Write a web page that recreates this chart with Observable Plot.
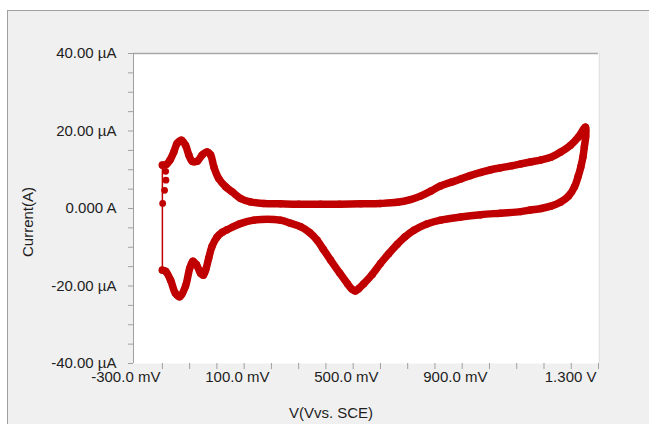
<!DOCTYPE html>
<html><head><meta charset="utf-8">
<script src="https://cdn.jsdelivr.net/npm/d3@7"></script>
<script src="https://cdn.jsdelivr.net/npm/@observablehq/plot@0.6"></script>
<style>
html,body{margin:0;padding:0;background:#fff;}
#wrap{position:relative;width:649px;height:424px;overflow:hidden;font-family:"Liberation Sans",Arial,sans-serif;color:#1e1e1e;}
#panel{position:absolute;left:7px;top:10px;width:700px;height:500px;background:#f0f0f0;border-left:1px solid #a0a0a0;border-top:1px solid #a0a0a0;}
#chart{position:absolute;left:0;top:0;}
#chart svg{background:transparent;}
.ttl{position:absolute;font-size:15px;line-height:18px;white-space:nowrap;}
#xt{left:181px;width:300px;text-align:center;top:404px;}
#yt{left:27.5px;top:222px;transform:translate(-50%,-50%) rotate(-90deg);}
</style></head><body>
<div id="wrap"><div id="panel"></div><div id="chart"></div>
<div class="ttl" id="xt">V(Vvs. SCE)</div>
<div class="ttl" id="yt">Current(A)</div>
</div>
<script>
// Forward (anodic) sweep: potential in mV, current in µA
const fwdV = [-300,-285,-272,-258,-246,-230,-215,-203,-191,-172,-154,-136,-123,-111,-93,-68,-44,-13,23,72,133,200,280,350,428,500,562,610,647,685,720,760,794,830,868,905,941,980,1015,1050,1088,1125,1160,1197,1226,1252];
const fwdI = [11.2,11.4,12.5,14.6,16.8,17.6,16.3,13.8,12.2,12.2,13.8,14.6,13.8,10.7,7.7,5.6,4.3,2.6,1.7,1.3,1.2,1.1,1.1,1.1,1.2,1.3,1.6,2.3,3.2,4.5,5.8,6.8,7.6,8.5,9.3,10.0,10.5,11.0,11.5,12.0,12.5,13.2,14.5,16.3,18.4,21.0];
// Reverse (cathodic) sweep
const revV = [1252,1253,1248,1243,1235,1225,1212,1190,1160,1125,1090,1050,1015,941,868,794,720,670,623,590,562,530,500,470,439,420,408,395,379,350,317,290,268,240,207,170,133,35,-14,-63,-80,-100,-118,-130,-141,-150,-160,-175,-188,-200,-215,-237,-252,-270,-288,-300];
const revI = [21.0,18.5,15.9,13.3,10.7,8.2,5.6,3.2,1.6,0.6,0.0,-0.4,-0.8,-1.2,-1.6,-2.2,-3.0,-4.0,-5.6,-7.3,-9.2,-11.7,-14.2,-17.0,-19.4,-20.7,-21.3,-20.8,-19.4,-16.6,-13.3,-10.5,-8.2,-6.2,-4.7,-3.8,-3.0,-3.0,-3.9,-5.5,-6.1,-7.4,-9.8,-12.8,-15.8,-17.2,-16.7,-14.5,-13.6,-15.5,-20.0,-22.8,-21.9,-18.5,-16.2,-15.9];
// Return step at the start potential and first scattered samples
const stepV = [-300,-300];
const stepI = [-15.9,11.2];
const startV = [-299,-292,-287,-288];
const startI = [1.3,4.7,7.3,9.6];

// Axis ticks and labels
const xMinorTicks = d3.range(-300,1301,100);
const xMajorTicks = [-300,100,500,900,1300];
const xTickLabels = ["-300.0 mV","100.0 mV","500.0 mV","900.0 mV","1.300 V"];
const yMinorTicks = d3.range(-40,41,5);
const yMajorTicks = [40,20,0,-20,-40];
const yTickLabels = ["40.00 µA","20.00 µA","0.000 A","-20.00 µA","-40.00 µA"];

const red = "#c00000";
const toPts = (V,I) => V.map((v,i)=>({v, i: I[i]}));
const fwd = toPts(fwdV,fwdI);
const rev = toPts(revV,revI);
const sweep = fwd.concat(rev.slice(1));
const step = toPts(stepV,stepI);
const start = toPts(startV,startI);
const xLab = new Map(xMajorTicks.map((d,k)=>[d,xTickLabels[k]]));
const yLab = new Map(yMajorTicks.map((d,k)=>[d,yTickLabels[k]]));

const chart = Plot.plot({
  width:649, height:424,
  marginLeft:133, marginRight:51, marginTop:53, marginBottom:61,
  style:{background:"transparent", fontFamily:"'Liberation Sans', Arial, sans-serif", fontSize:"15px", color:"#1e1e1e"},
  x:{domain:[-406,1300], label:null},
  y:{domain:[-40,40], label:null},
  marks:[
    Plot.frame({fill:"white", stroke:"none"}),
    Plot.ruleX([1300], {stroke:"#e2e2e2", dx:1}),
    Plot.ruleY([40], {stroke:"#a8a8a8", strokeWidth:1.6}),
    Plot.ruleX([-406], {stroke:"#a0a0a0"}),
    Plot.axisY(yMinorTicks, {tickSize:5, tickFormat:()=>"", stroke:"#a0a0a0", label:null}),
    Plot.axisY(yMajorTicks, {tickSize:0, tickPadding:17, tickFormat:d=>yLab.get(d), fill:"#1e1e1e", label:null}),
    Plot.axisX(xMinorTicks, {tickSize:6, tickFormat:()=>"", stroke:"#a0a0a0", label:null}),
    Plot.text(xMajorTicks, {x:d=>d, frameAnchor:"bottom", text:d=>xLab.get(d), textAnchor:"end", dy:18, dx:-2, fill:"#1e1e1e"}),
    Plot.line(step, {x:"v", y:"i", stroke:red, strokeWidth:1.5}),
    Plot.dot(start, {x:"v", y:"i", r:3.4, fill:red}),
    Plot.line(sweep, {x:"v", y:"i", stroke:red, strokeWidth:7.5, strokeLinejoin:"round", strokeLinecap:"round", curve:"catmull-rom"}),
    Plot.dot(sweep, {x:"v", y:"i", r:3.7, fill:red})
  ]
});
document.getElementById("chart").appendChild(chart);
</script>
</body></html>
